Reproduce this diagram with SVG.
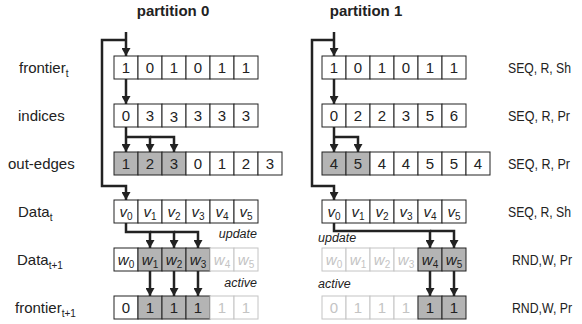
<svg xmlns="http://www.w3.org/2000/svg" width="582" height="324" viewBox="0 0 582 324">
<style>
text{font-family:"Liberation Sans",Arial,sans-serif;fill:#222}
.t{font-size:15px}
.r{font-size:14px}
.c{font-size:15px;text-anchor:middle}
.sub{font-size:10px}
.title{font-size:15px;font-weight:bold;text-anchor:middle}
.it{font-style:italic}
.lab{font-size:12.5px;font-style:italic}
.cell{fill:#fff;stroke:#222;stroke-width:1}
.g{fill:#b4b4b4;stroke:#222;stroke-width:1}
.lt{fill:#fff;stroke:#c4c4c4;stroke-width:1}
.ltx{fill:#c4c4c4}
.conn{fill:none;stroke:#222;stroke-width:2.5}
</style>
<defs>
<marker id="ah" markerUnits="userSpaceOnUse" markerWidth="9" markerHeight="9" refX="8" refY="4.5" orient="auto">
<path d="M0,0 L8,4.5 L0,9 z" fill="#222"/>
</marker>
</defs>

<text class="title" x="173" y="16">partition 0</text>
<text class="title" x="366" y="16">partition 1</text>

<g id="row-labels">
<text class="t" x="19" y="73">frontier<tspan class="sub" dy="4">t</tspan></text>
<text class="t" x="18" y="121">indices</text>
<text class="t" x="8" y="169">out-edges</text>
<text class="t" x="18" y="217">Data<tspan class="sub" dy="4">t</tspan></text>
<text class="t" x="17" y="265">Data<tspan class="sub" dy="4">t+1</tspan></text>
<text class="t" x="15" y="313">frontier<tspan class="sub" dy="4">t+1</tspan></text>
</g>

<g id="access-labels">
<text class="r" x="508" y="73" textLength="63" lengthAdjust="spacingAndGlyphs">SEQ, R, Sh</text>
<text class="r" x="508" y="121" textLength="62" lengthAdjust="spacingAndGlyphs">SEQ, R, Pr</text>
<text class="r" x="508" y="169" textLength="62" lengthAdjust="spacingAndGlyphs">SEQ, R, Pr</text>
<text class="r" x="508" y="217" textLength="63" lengthAdjust="spacingAndGlyphs">SEQ, R, Sh</text>
<text class="r" x="512" y="265" textLength="60" lengthAdjust="spacingAndGlyphs">RND,W, Pr</text>
<text class="r" x="512" y="313" textLength="60" lengthAdjust="spacingAndGlyphs">RND,W, Pr</text>
</g>

<!-- partition 0 -->
<g id="p0-frontier">
<rect class="cell" x="114" y="56" width="24" height="23"/><rect class="cell" x="138" y="56" width="24" height="23"/><rect class="cell" x="162" y="56" width="24" height="23"/><rect class="cell" x="186" y="56" width="24" height="23"/><rect class="cell" x="210" y="56" width="24" height="23"/><rect class="cell" x="234" y="56" width="24" height="23"/>
<text class="c" x="126" y="73">1</text><text class="c" x="150" y="73">0</text><text class="c" x="174" y="73">1</text><text class="c" x="198" y="73">0</text><text class="c" x="222" y="73">1</text><text class="c" x="246" y="73">1</text>
</g>
<g id="p0-indices">
<rect class="cell" x="114" y="104" width="24" height="23"/><rect class="cell" x="138" y="104" width="24" height="23"/><rect class="cell" x="162" y="104" width="24" height="23"/><rect class="cell" x="186" y="104" width="24" height="23"/><rect class="cell" x="210" y="104" width="24" height="23"/><rect class="cell" x="234" y="104" width="24" height="23"/>
<text class="c" x="126" y="121">0</text><text class="c" x="150" y="121">3</text><text class="c" x="174" y="122">3</text><text class="c" x="198" y="121">3</text><text class="c" x="222" y="121">3</text><text class="c" x="246" y="121">3</text>
</g>
<g id="p0-outedges">
<rect class="g" x="114" y="152" width="24" height="23"/><rect class="g" x="138" y="152" width="24" height="23"/><rect class="g" x="162" y="152" width="24" height="23"/><rect class="cell" x="186" y="152" width="24" height="23"/><rect class="cell" x="210" y="152" width="24" height="23"/><rect class="cell" x="234" y="152" width="24" height="23"/><rect class="cell" x="258" y="152" width="24" height="23"/>
<text class="c" x="126" y="169">1</text><text class="c" x="150" y="169">2</text><text class="c" x="174" y="169">3</text><text class="c" x="198" y="169">0</text><text class="c" x="222" y="169">1</text><text class="c" x="246" y="169">2</text><text class="c" x="270" y="169">3</text>
</g>
<g id="p0-data-t">
<rect class="cell" x="114" y="200" width="24" height="23"/><rect class="cell" x="138" y="200" width="24" height="23"/><rect class="cell" x="162" y="200" width="24" height="23"/><rect class="cell" x="186" y="200" width="24" height="23"/><rect class="cell" x="210" y="200" width="24" height="23"/><rect class="cell" x="234" y="200" width="24" height="23"/>
<text class="c" x="126" y="217"><tspan class="it">v</tspan><tspan class="sub" dy="3">0</tspan></text>
<text class="c" x="150" y="217"><tspan class="it">v</tspan><tspan class="sub" dy="3">1</tspan></text>
<text class="c" x="174" y="217"><tspan class="it">v</tspan><tspan class="sub" dy="3">2</tspan></text>
<text class="c" x="198" y="217"><tspan class="it">v</tspan><tspan class="sub" dy="3">3</tspan></text>
<text class="c" x="222" y="217"><tspan class="it">v</tspan><tspan class="sub" dy="3">4</tspan></text>
<text class="c" x="246" y="217"><tspan class="it">v</tspan><tspan class="sub" dy="3">5</tspan></text>
</g>
<g id="p0-data-t1">
<rect class="cell" x="114" y="248" width="24" height="23"/><rect class="g" x="138" y="248" width="24" height="23"/><rect class="g" x="162" y="248" width="24" height="23"/><rect class="g" x="186" y="248" width="24" height="23"/><rect class="lt" x="210" y="248" width="24" height="23"/><rect class="lt" x="234" y="248" width="24" height="23"/>
<text class="c" x="126" y="265"><tspan class="it">w</tspan><tspan class="sub" dy="3">0</tspan></text>
<text class="c" x="150" y="265"><tspan class="it">w</tspan><tspan class="sub" dy="3">1</tspan></text>
<text class="c" x="174" y="265"><tspan class="it">w</tspan><tspan class="sub" dy="3">2</tspan></text>
<text class="c" x="198" y="265"><tspan class="it">w</tspan><tspan class="sub" dy="3">3</tspan></text>
<text class="c ltx" x="222" y="265"><tspan class="it">w</tspan><tspan class="sub" dy="3">4</tspan></text>
<text class="c ltx" x="246" y="265"><tspan class="it">w</tspan><tspan class="sub" dy="3">5</tspan></text>
</g>
<g id="p0-frontier-t1">
<rect class="cell" x="114" y="296" width="24" height="23"/><rect class="g" x="138" y="296" width="24" height="23"/><rect class="g" x="162" y="296" width="24" height="23"/><rect class="g" x="186" y="296" width="24" height="23"/><rect class="lt" x="210" y="296" width="24" height="23"/><rect class="lt" x="234" y="296" width="24" height="23"/>
<text class="c" x="126" y="313">0</text><text class="c" x="150" y="313">1</text><text class="c" x="174" y="313">1</text><text class="c" x="198" y="313">1</text><text class="c ltx" x="222" y="313">1</text><text class="c ltx" x="246" y="313">1</text>
</g>

<!-- partition 1 -->
<g id="p1-frontier">
<rect class="cell" x="322" y="56" width="24" height="23"/><rect class="cell" x="346" y="56" width="24" height="23"/><rect class="cell" x="370" y="56" width="24" height="23"/><rect class="cell" x="394" y="56" width="24" height="23"/><rect class="cell" x="418" y="56" width="24" height="23"/><rect class="cell" x="442" y="56" width="24" height="23"/>
<text class="c" x="334" y="73">1</text><text class="c" x="358" y="73">0</text><text class="c" x="382" y="73">1</text><text class="c" x="406" y="73">0</text><text class="c" x="430" y="73">1</text><text class="c" x="454" y="73">1</text>
</g>
<g id="p1-indices">
<rect class="cell" x="322" y="104" width="24" height="23"/><rect class="cell" x="346" y="104" width="24" height="23"/><rect class="cell" x="370" y="104" width="24" height="23"/><rect class="cell" x="394" y="104" width="24" height="23"/><rect class="cell" x="418" y="104" width="24" height="23"/><rect class="cell" x="442" y="104" width="24" height="23"/>
<text class="c" x="334" y="121">0</text><text class="c" x="358" y="121">2</text><text class="c" x="382" y="121">2</text><text class="c" x="406" y="121">3</text><text class="c" x="430" y="121">5</text><text class="c" x="454" y="121">6</text>
</g>
<g id="p1-outedges">
<rect class="g" x="322" y="152" width="24" height="23"/><rect class="g" x="346" y="152" width="24" height="23"/><rect class="cell" x="370" y="152" width="24" height="23"/><rect class="cell" x="394" y="152" width="24" height="23"/><rect class="cell" x="418" y="152" width="24" height="23"/><rect class="cell" x="442" y="152" width="24" height="23"/><rect class="cell" x="466" y="152" width="24" height="23"/>
<text class="c" x="334" y="169">4</text><text class="c" x="358" y="169">5</text><text class="c" x="382" y="169">4</text><text class="c" x="406" y="169">4</text><text class="c" x="430" y="169">5</text><text class="c" x="454" y="169">5</text><text class="c" x="478" y="169">4</text>
</g>
<g id="p1-data-t">
<rect class="cell" x="322" y="200" width="24" height="23"/><rect class="cell" x="346" y="200" width="24" height="23"/><rect class="cell" x="370" y="200" width="24" height="23"/><rect class="cell" x="394" y="200" width="24" height="23"/><rect class="cell" x="418" y="200" width="24" height="23"/><rect class="cell" x="442" y="200" width="24" height="23"/>
<text class="c" x="334" y="217"><tspan class="it">v</tspan><tspan class="sub" dy="3">0</tspan></text>
<text class="c" x="358" y="217"><tspan class="it">v</tspan><tspan class="sub" dy="3">1</tspan></text>
<text class="c" x="382" y="217"><tspan class="it">v</tspan><tspan class="sub" dy="3">2</tspan></text>
<text class="c" x="406" y="217"><tspan class="it">v</tspan><tspan class="sub" dy="3">3</tspan></text>
<text class="c" x="430" y="217"><tspan class="it">v</tspan><tspan class="sub" dy="3">4</tspan></text>
<text class="c" x="454" y="217"><tspan class="it">v</tspan><tspan class="sub" dy="3">5</tspan></text>
</g>
<g id="p1-data-t1">
<rect class="lt" x="322" y="248" width="24" height="23"/><rect class="lt" x="346" y="248" width="24" height="23"/><rect class="lt" x="370" y="248" width="24" height="23"/><rect class="lt" x="394" y="248" width="24" height="23"/><rect class="g" x="418" y="248" width="24" height="23"/><rect class="g" x="442" y="248" width="24" height="23"/>
<text class="c ltx" x="334" y="265"><tspan class="it">w</tspan><tspan class="sub" dy="3">0</tspan></text>
<text class="c ltx" x="358" y="265"><tspan class="it">w</tspan><tspan class="sub" dy="3">1</tspan></text>
<text class="c ltx" x="382" y="265"><tspan class="it">w</tspan><tspan class="sub" dy="3">2</tspan></text>
<text class="c ltx" x="406" y="265"><tspan class="it">w</tspan><tspan class="sub" dy="3">3</tspan></text>
<text class="c" x="430" y="265"><tspan class="it">w</tspan><tspan class="sub" dy="3">4</tspan></text>
<text class="c" x="454" y="265"><tspan class="it">w</tspan><tspan class="sub" dy="3">5</tspan></text>
</g>
<g id="p1-frontier-t1">
<rect class="lt" x="322" y="296" width="24" height="23"/><rect class="lt" x="346" y="296" width="24" height="23"/><rect class="lt" x="370" y="296" width="24" height="23"/><rect class="lt" x="394" y="296" width="24" height="23"/><rect class="g" x="418" y="296" width="24" height="23"/><rect class="g" x="442" y="296" width="24" height="23"/>
<text class="c ltx" x="334" y="313">0</text><text class="c ltx" x="358" y="313">1</text><text class="c ltx" x="382" y="313">1</text><text class="c ltx" x="406" y="313">1</text><text class="c" x="430" y="313">1</text><text class="c" x="454" y="313">1</text>
</g>

<g id="edge-labels">
<text class="lab" x="257" y="238" text-anchor="end">update</text>
<text class="lab" x="257" y="287" text-anchor="end">active</text>
<text class="lab" x="318" y="242">update</text>
<text class="lab" x="318" y="288">active</text>
</g>

<g id="connectors">
<!-- partition 0 -->
<path class="conn" d="M126,32 V56" marker-end="url(#ah)"/>
<path class="conn" d="M126,40 H102 V186 H126 V200" marker-end="url(#ah)"/>
<path class="conn" d="M126,79 V104" marker-end="url(#ah)"/>
<path class="conn" d="M126,127 V152" marker-end="url(#ah)"/>
<path class="conn" d="M126,137 H150 V152" marker-end="url(#ah)"/>
<path class="conn" d="M150,137 H174 V152" marker-end="url(#ah)"/>
<path class="conn" d="M126,223 V232 H150 V248" marker-end="url(#ah)"/>
<path class="conn" d="M150,232 H174 V248" marker-end="url(#ah)"/>
<path class="conn" d="M174,232 H198 V248" marker-end="url(#ah)"/>
<path class="conn" d="M150,271 V296" marker-end="url(#ah)"/>
<path class="conn" d="M174,271 V296" marker-end="url(#ah)"/>
<path class="conn" d="M198,271 V296" marker-end="url(#ah)"/>
<!-- partition 1 -->
<path class="conn" d="M334,32 V56" marker-end="url(#ah)"/>
<path class="conn" d="M334,40 H312 V186 H334 V200" marker-end="url(#ah)"/>
<path class="conn" d="M334,79 V104" marker-end="url(#ah)"/>
<path class="conn" d="M334,127 V152" marker-end="url(#ah)"/>
<path class="conn" d="M334,137 H358 V152" marker-end="url(#ah)"/>
<path class="conn" d="M334,223 V231 H430 V248" marker-end="url(#ah)"/>
<path class="conn" d="M430,231 H454 V248" marker-end="url(#ah)"/>
<path class="conn" d="M430,271 V296" marker-end="url(#ah)"/>
<path class="conn" d="M454,271 V296" marker-end="url(#ah)"/>
</g>
</svg>
